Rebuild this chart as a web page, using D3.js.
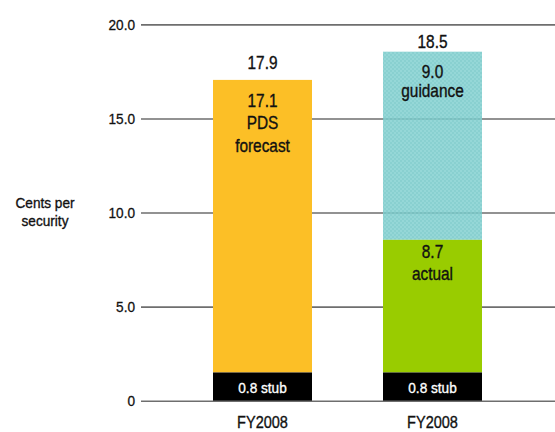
<!DOCTYPE html>
<html>
<head>
<meta charset="utf-8">
<script src="https://cdn.jsdelivr.net/npm/d3@7"></script>
<style>
  body { margin: 0; background: #fff; }
  svg { display: block; font-family: "Liberation Sans", Arial, sans-serif; }
</style>
</head>
<body>
<div id="chart"></div>
<script>
// ---- data ----
var categories = ["FY2008", "FY2008"];
var yTicks = [0, 5, 10, 15, 20];
// drawn segment tops, in cents per security
var stubTop = [1.5, 1.5];
var lowerTop = [17.05, 8.55];
var upperTop = [null, 18.55];
// printed labels
var totalLabels = ["17.9", "18.5"];
var stubLabels = ["0.8 stub", "0.8 stub"];
var lowerLabels = [["17.1", "PDS", "forecast"], ["8.7", "actual"]];
var upperLabels = [null, ["9.0", "guidance"]];
var yTitle = ["Cents per", "security"];

// ---- layout ----
var W = 555, H = 432;
var SX = 0.88;   // narrow the face, like a condensed font
var lowerColors = ["#fcbf26", "#99cc00"];

var svg = d3.select("#chart").append("svg")
  .attr("width", W).attr("height", H);

var defs = svg.append("defs");
var pat = defs.append("pattern")
  .attr("id", "guid")
  .attr("width", 4).attr("height", 4)
  .attr("patternUnits", "userSpaceOnUse");
pat.append("rect").attr("width", 4).attr("height", 4).attr("fill", "#82d0d0");
pat.append("rect").attr("width", 2).attr("height", 2).attr("fill", "#74c8c8");
pat.append("rect").attr("x", 2).attr("y", 2).attr("width", 2).attr("height", 2).attr("fill", "#74c8c8");

var y = d3.scaleLinear().domain([0, 20]).range([400.7, 24.4]);
var x = d3.scaleBand().domain([0, 1]).range([213, 482]).paddingInner(71 / 170);
var bw = x.bandwidth();

// condensed text helper: lines stacked from y0 with gap
function label(cx, y0, lines, size, fill, gap) {
  fill = fill || "#111";
  var t = svg.append("text")
    .attr("transform", "translate(" + cx + ",0) scale(" + SX + ",1)")
    .attr("text-anchor", "middle")
    .attr("fill", fill)
    .attr("stroke", fill)
    .attr("stroke-width", 0.35)
    .style("font-size", size + "px");
  [].concat(lines).forEach(function (s, k) {
    t.append("tspan").attr("x", 0).attr("y", y0 + k * (gap || 0)).text(s);
  });
  return t;
}

//-- gridlines + tick labels
var tickLen = W - 141, pad = 6;
var axis = d3.axisLeft(y)
  .tickValues(yTicks)
  .tickFormat(function (d) { return d === 0 ? "0" : d3.format(".1f")(d); })
  .tickSizeInner(tickLen)
  .tickSizeOuter(0)
  .tickPadding(pad);

var gAxis = svg.append("g")
  .attr("transform", "translate(" + W + ",0)")
  .call(axis);
gAxis.select(".domain").remove();
gAxis.selectAll(".tick line").attr("stroke", "#6e6e6e").attr("stroke-width", 1.6);
gAxis.selectAll(".tick text")
  .attr("fill", "#111")
  .attr("stroke", "#111")
  .attr("stroke-width", 0.3)
  .attr("x", -(tickLen + pad) / SX)
  .attr("transform", "scale(" + SX + ",1)")
  .style("font-size", "15.5px")
  .style("font-family", "inherit");

//-- y title
label(45, 208, yTitle, 15.5, "#111", 18);

//-- bars
var bars = svg.selectAll(".bar").data(categories).enter()
  .append("g").attr("class", "bar");

// upper (guidance) segment
bars.filter(function (d, i) { return upperTop[i] != null; })
  .append("rect")
  .attr("x", function () { return x(1); })
  .attr("y", y(upperTop[1]))
  .attr("width", bw)
  .attr("height", y(lowerTop[1]) - y(upperTop[1]))
  .attr("fill", "url(#guid)")
  .attr("opacity", 0.85);

bars.append("rect")
  .attr("x", function (d, i) { return x(i); })
  .attr("y", function (d, i) { return y(lowerTop[i]); })
  .attr("width", bw)
  .attr("height", function (d, i) { return y(stubTop[i]) - y(lowerTop[i]); })
  .attr("fill", function (d, i) { return lowerColors[i]; });

bars.append("rect")
  .attr("x", function (d, i) { return x(i); })
  .attr("y", function (d, i) { return y(stubTop[i]); })
  .attr("width", bw)
  .attr("height", function (d, i) { return y(0) - y(stubTop[i]); })
  .attr("fill", "#000");

//-- labels
var topTop = [lowerTop[0], upperTop[1]];
var totalDy = [-11, -4];
var lowerDy = [27, 18];

categories.forEach(function (c, i) {
  var cx = x(i) + bw / 2;
  label(cx, y(topTop[i]) + totalDy[i], totalLabels[i], 17.5);
  label(cx, y(lowerTop[i]) + lowerDy[i], lowerLabels[i], 17.5, "#111", 22.5);
  if (upperLabels[i]) label(cx, y(upperTop[i]) + 26, upperLabels[i], 17.5, "#111", 19);
  label(cx, y(0) - 8, stubLabels[i], 15.5, "#fff");
  label(cx, 428, c, 16.5);
});
</script>
</body>
</html>
